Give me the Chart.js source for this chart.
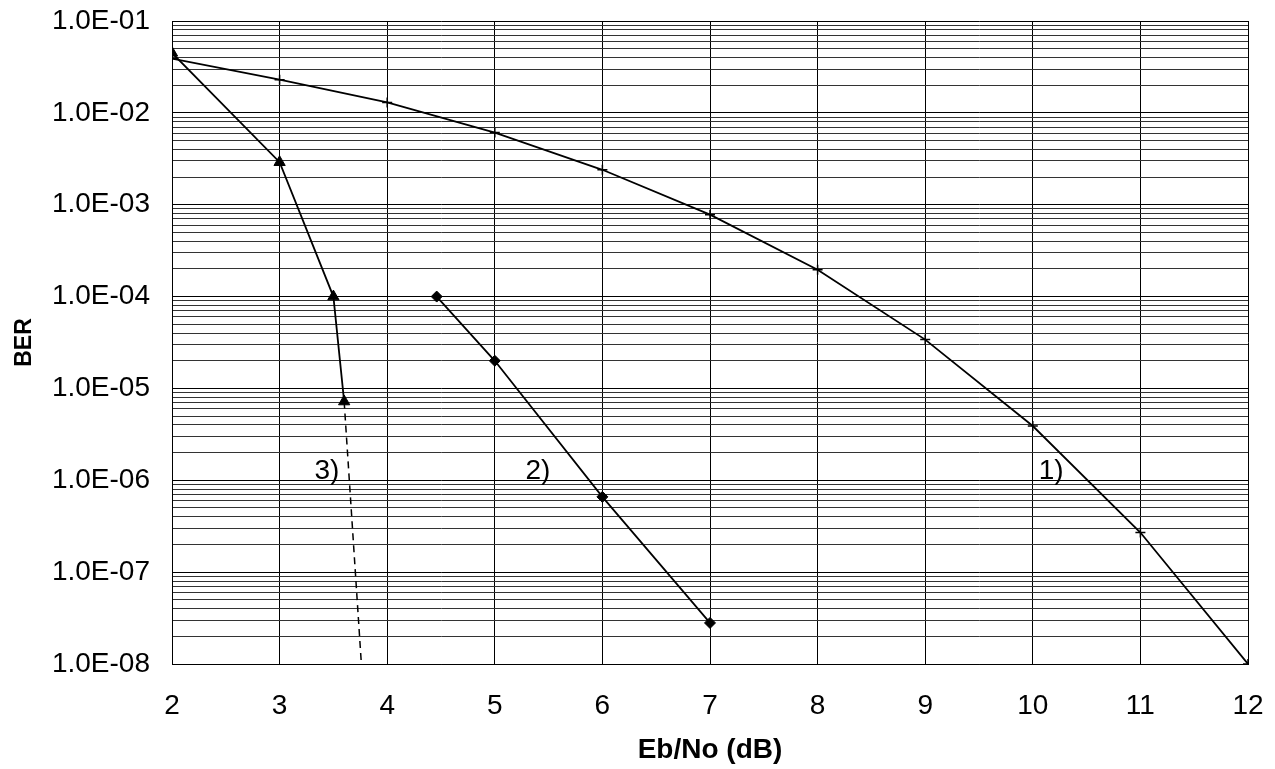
<!DOCTYPE html>
<html>
<head>
<meta charset="utf-8">
<script src="https://cdn.jsdelivr.net/npm/chart.js@4.4.0/dist/chart.umd.min.js"></script>
<style>
    html, body { margin: 0; padding: 0; background: #fff; }
    canvas { display: block; }
</style>
</head>
<body>
<canvas id="myChart" width="1275" height="769"></canvas>
<script>
// curve 1) - plus markers
const curve1X = [2, 3, 4, 5, 6, 7, 8, 9, 10, 11, 12];
const curve1Y = [3.9e-2, 2.3e-2, 1.3e-2, 6.1e-3, 2.4e-3, 7.8e-4, 1.96e-4, 3.4e-5, 3.9e-6, 2.7e-7, 1.0e-8];

// curve 2) - diamond markers
const curve2X = [4.46, 5, 6, 7];
const curve2Y = [1.0e-4, 2.0e-5, 6.6e-7, 2.8e-8];

// curve 3) - triangle markers, then dashed extrapolation
const curve3X = [2, 3, 3.5, 3.6];
const curve3Y = [4.5e-2, 2.9e-3, 1.0e-4, 7.2e-6];
const curve3DashX = [3.6, 3.76];
const curve3DashY = [7.2e-6, 1.0e-8];

// curve labels
const labelText = ['1)', '2)', '3)'];
const labelX = [10.17, 5.4, 3.44];
const labelY = [1.25e-6, 1.25e-6, 1.25e-6];

// axes
const xTicks = [2, 3, 4, 5, 6, 7, 8, 9, 10, 11, 12];
const yDecades = [1e-8, 1e-7, 1e-6, 1e-5, 1e-4, 1e-3, 1e-2, 1e-1];

const FONT = '"Liberation Sans", Arial, sans-serif';

function toPoints(xs, ys) {
    return xs.map((x, i) => ({ x: x, y: ys[i] }));
}

// 1, 2, ... 9 in every decade for the grid
let yTickValues = [];
for (let i = 0; i < yDecades.length - 1; i++) {
    for (let m = 1; m <= 9; m++) {
        yTickValues.push(parseFloat((m * yDecades[i]).toPrecision(3)));
    }
}
yTickValues.push(yDecades[yDecades.length - 1]);

function isDecade(v) {
    return yDecades.some(d => Math.abs(v - d) / d < 1e-6);
}

function expLabel(v) {
    let e = Math.round(Math.log10(v));
    let s = Math.abs(e) < 10 ? '0' + Math.abs(e) : '' + Math.abs(e);
    return '1.0E' + (e < 0 ? '-' : '+') + s;
}

// draws "1)", "2)", "3)" next to the curves
const curveLabels = {
    id: 'curveLabels',
    afterDatasetsDraw(chart) {
        const ctx = chart.ctx;
        const xs = chart.scales.x;
        const ys = chart.scales.y;
        ctx.save();
        ctx.font = '28px ' + FONT;
        ctx.fillStyle = '#000';
        ctx.textAlign = 'center';
        ctx.textBaseline = 'middle';
        labelText.forEach((t, i) => {
            ctx.fillText(t, xs.getPixelForValue(labelX[i]), ys.getPixelForValue(labelY[i]));
        });
        ctx.restore();
    }
};

const lineStyle = {
    borderColor: '#000',
    backgroundColor: '#000',
    borderWidth: 1.8,
    pointBorderColor: '#000',
    pointBackgroundColor: '#000',
    tension: 0,
    fill: false
};

var ctx = document.getElementById('myChart');
var myChart = new Chart(ctx, {
    type: 'scatter',
    data: {
        datasets: [
            Object.assign({}, lineStyle, {
                label: '1)',
                data: toPoints(curve1X, curve1Y),
                showLine: true,
                pointStyle: 'cross',
                pointRadius: 5,
                pointBorderWidth: 1.5
            }),
            Object.assign({}, lineStyle, {
                label: '2)',
                data: toPoints(curve2X, curve2Y),
                showLine: true,
                pointStyle: 'rectRot',
                pointRadius: 5.5,
                pointBorderWidth: 1
            }),
            Object.assign({}, lineStyle, {
                label: '3)',
                data: toPoints(curve3X, curve3Y),
                showLine: true,
                pointStyle: 'triangle',
                pointRadius: 6.5,
                pointBorderWidth: 1
            }),
            Object.assign({}, lineStyle, {
                label: '3) ext',
                data: toPoints(curve3DashX, curve3DashY),
                showLine: true,
                borderDash: [7, 5],
                borderWidth: 1.5,
                pointRadius: 0
            })
        ]
    },
    options: {
        responsive: false,
        animation: false,
        layout: {
            padding: { top: 21, right: 27, left: 0, bottom: 0 }
        },
        plugins: {
            legend: { display: false },
            tooltip: { enabled: false }
        },
        scales: {
            x: {
                type: 'linear',
                min: 2,
                max: 12,
                afterBuildTicks: function (scale) {
                    scale.ticks = xTicks.map(v => ({ value: v }));
                },
                afterFit: function (scale) {
                    scale.height = 105;
                    scale.paddingLeft = 0;
                    scale.paddingRight = 0;
                },
                grid: {
                    color: '#000',
                    lineWidth: 1,
                    drawTicks: false
                },
                border: { color: '#000', width: 1 },
                ticks: {
                    color: '#000',
                    padding: 25,
                    font: { family: FONT, size: 28 },
                    maxRotation: 0,
                    autoSkip: false
                },
                title: {
                    display: true,
                    text: 'Eb/No (dB)',
                    color: '#000',
                    font: { family: FONT, size: 28, weight: 'bold' },
                    padding: { top: 0, bottom: 2 }
                }
            },
            y: {
                type: 'logarithmic',
                min: 1e-8,
                max: 1e-1,
                afterBuildTicks: function (scale) {
                    scale.ticks = yTickValues.map(v => ({ value: v, major: isDecade(v) }));
                },
                afterFit: function (scale) {
                    scale.width = 172;
                    scale.paddingTop = 0;
                    scale.paddingBottom = 0;
                },
                grid: {
                    color: function (c) {
                        return c.tick && isDecade(c.tick.value) ? '#000' : '#333';
                    },
                    lineWidth: 1,
                    drawTicks: false
                },
                border: { color: '#000', width: 1 },
                ticks: {
                    color: '#000',
                    padding: 22,
                    autoSkip: false,
                    font: { family: FONT, size: 28 },
                    callback: function (value) {
                        return isDecade(value) ? expLabel(value) : '';
                    }
                },
                title: {
                    display: true,
                    text: 'BER',
                    color: '#000',
                    font: { family: FONT, size: 23, weight: 'bold' },
                    padding: { top: 11, bottom: 0 }
                }
            }
        }
    },
    plugins: [curveLabels]
});
</script>
</body>
</html>
